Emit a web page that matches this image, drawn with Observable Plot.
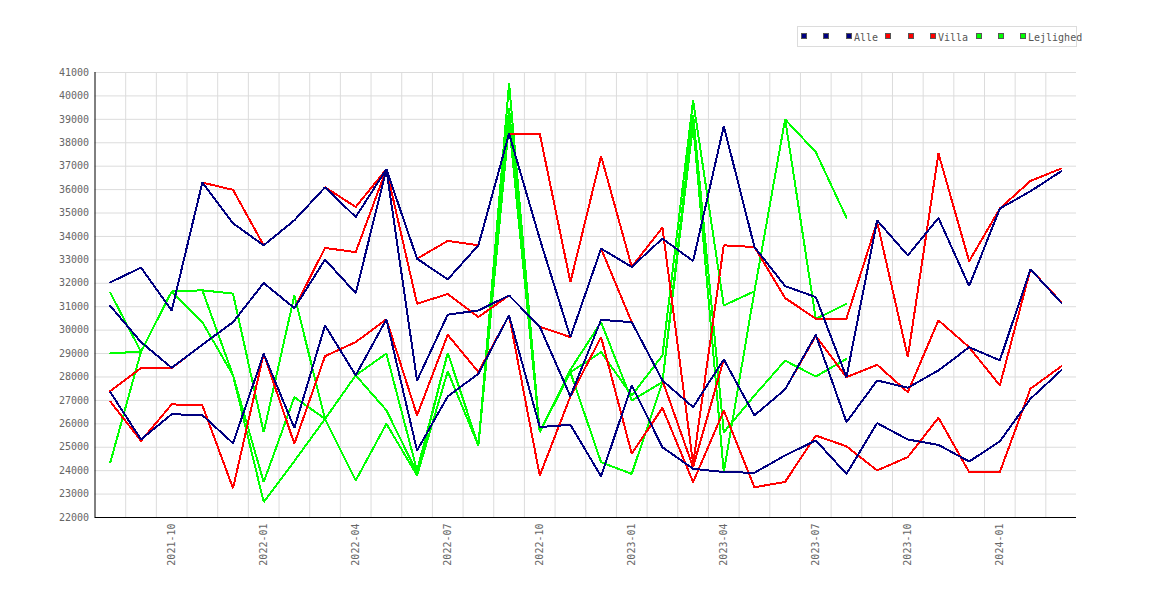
<!DOCTYPE html>
<html>
<head>
<meta charset="utf-8">
<script src="https://cdn.jsdelivr.net/npm/d3@7"></script>
<script src="https://cdn.jsdelivr.net/npm/@observablehq/plot@0.6"></script>
<style>
  html, body { margin: 0; padding: 0; background: #fff; }
  #wrap { position: relative; width: 1170px; height: 600px; }
  #legend { position: absolute; left: 0; top: 0; }
</style>
</head>
<body>
<div id="wrap"></div>
<script>
// Months (x categories)
const months = ["2021-08","2021-09","2021-10","2021-11","2021-12",
  "2022-01","2022-02","2022-03","2022-04","2022-05","2022-06","2022-07","2022-08","2022-09","2022-10","2022-11","2022-12",
  "2023-01","2023-02","2023-03","2023-04","2023-05","2023-06","2023-07","2023-08","2023-09","2023-10","2023-11","2023-12",
  "2024-01","2024-02","2024-03"];

// Tick labels shown on the x axis (every third month)
const xTickLabels = ["2021-10","2022-01","2022-04","2022-07","2022-10","2023-01","2023-04","2023-07","2023-10","2024-01"];
const yTicks = [22000,23000,24000,25000,26000,27000,28000,29000,30000,31000,32000,33000,34000,35000,36000,37000,38000,39000,40000,41000];

// Alle (navy)
const alle1 = [32040,32670,30840,36300,34560,33620,34690,36100,34830,36870,33050,32170,33620,38390,33900,29700,33480,32700,33910,32950,38710,33550,31880,31410,27990,34690,33190,34790,31880,35190,35930,36780];
const alle2 = [31030,29490,28390,29380,30340,32010,30940,33010,31580,36870,27850,30660,30840,31480,30150,27170,30440,30340,27850,26710,28750,26360,27470,29800,26070,27850,27540,28280,29270,28710,32600,31170];
const alle3 = [27350,25330,26410,26370,25170,28990,25820,30200,28070,30460,24860,27170,28140,30630,25860,25960,23760,27640,25000,24080,23940,23910,24650,25290,23860,26030,25330,25100,24390,25250,27070,28280];

// Villa (red)
const villa1 = [32040,32670,30840,36300,35990,33620,34690,36100,35260,36870,33050,33810,33620,38390,38390,32050,37430,32700,34380,24290,33620,33550,31370,30490,30490,34620,28850,37540,32940,35190,36370,36900];
const villa2 = [27400,28380,28380,29380,30340,32010,30940,33510,33330,36870,31130,31540,30560,31480,30150,29700,33480,30340,27850,24150,28750,26360,27470,29750,27990,28520,27350,30420,29270,27640,32600,31200];
const villa3 = [26950,25270,26830,26790,23250,28990,25150,28890,29490,30460,26360,29800,28210,30630,23790,27170,29700,24720,26680,23510,26570,23290,23520,25500,25040,24010,24580,26260,23940,23940,27500,28450];

// Lejlighed (green) – ends 2023-08
const lej1 = [31590,29080,31650,31700,31560,25640,31480,26200,28070,26580,23900,29030,25070,40530,25640,28310,30340,27000,27780,39200,25640,27210,28700,28020,28770];
const lej2 = [29010,29080,31650,30340,28070,23510,27140,26210,23580,26000,23800,28240,25070,39460,25640,28200,29060,27210,28920,39800,31050,31660,39000,37600,34800];
const lej3 = [24360,29080,31650,31700,28070,22660,24410,26210,28070,29000,24000,29030,25070,38820,25640,28200,24360,23860,27780,38800,23940,31660,39000,30480,31120];

const seriesNames = ["Alle","Villa","Lejlighed"];
const seriesColors = ["#000080","#ff0000","#00ff00"];

const series = [
  {key:"a1", group:0, values:alle1},
  {key:"a2", group:0, values:alle2},
  {key:"a3", group:0, values:alle3},
  {key:"v1", group:1, values:villa1},
  {key:"v2", group:1, values:villa2},
  {key:"v3", group:1, values:villa3},
  {key:"l1", group:2, values:lej1},
  {key:"l2", group:2, values:lej2},
  {key:"l3", group:2, values:lej3}
];

function rowsOf(s) {
  return s.values.map((v, i) => ({i, month: months[i], v}));
}

const tickIdx = xTickLabels.map(l => months.indexOf(l));
const gridX = months.slice(1).map((m, i) => i + 0.5);

// draw in reverse legend order: last entries first, so navy ends on top
const lineMarks = series.slice().reverse().map(s =>
  Plot.line(rowsOf(s), {x: "i", y: "v", stroke: seriesColors[s.group], strokeWidth: 2, strokeLinejoin: "miter", shapeRendering: "crispEdges"})
);

const chart = Plot.plot({
  width: 1170,
  height: 600,
  marginLeft: 94.5,
  marginRight: 94,
  marginTop: 72,
  marginBottom: 83,
  style: {fontFamily: "'DejaVu Sans Mono', monospace", fontSize: "10px", color: "#666", background: "#fff"},
  x: {type: "linear", domain: [-0.5, months.length - 0.5]},
  y: {domain: [22000, 41000]},
  marks: [
    Plot.ruleY(yTicks, {stroke: "#dcdcdc", strokeWidth: 1}),
    Plot.ruleX(gridX, {stroke: "#dcdcdc", strokeWidth: 1}),
    ...lineMarks,
    Plot.axisY({ticks: yTicks, tickFormat: d3.format("d"), tickSize: 0, tickPadding: 6, fill: "#666", label: null}),
    Plot.axisX({ticks: tickIdx, tickFormat: i => months[i], tickSize: 0, tickPadding: 6, tickRotate: -90, fill: "#666", label: null}),
    Plot.ruleX([-0.5], {stroke: "#000", strokeWidth: 1}),
    Plot.ruleY([22000], {stroke: "#000", strokeWidth: 1})
  ]
});

const wrap = document.getElementById("wrap");
wrap.appendChild(chart);

// Legend (overlay above the plot area)
const ns = "http://www.w3.org/2000/svg";
const leg = document.createElementNS(ns, "svg");
leg.setAttribute("id", "legend");
leg.setAttribute("width", 1170);
leg.setAttribute("height", 60);
const box = document.createElementNS(ns, "rect");
box.setAttribute("x", 797.5); box.setAttribute("y", 26.5);
box.setAttribute("width", 279); box.setAttribute("height", 20);
box.setAttribute("fill", "#fff"); box.setAttribute("stroke", "#dcdcdc");
leg.appendChild(box);
const sqX = [[801, 823, 846], [885, 908, 930], [976, 998, 1020]];
const txtX = [854, 938, 1028];
seriesNames.forEach((name, g) => {
  sqX[g].forEach(x => {
    const r = document.createElementNS(ns, "rect");
    r.setAttribute("x", x + 0.5); r.setAttribute("y", 33.5);
    r.setAttribute("width", 5); r.setAttribute("height", 5);
    r.setAttribute("fill", seriesColors[g]); r.setAttribute("stroke", "#555");
    r.setAttribute("shape-rendering", "crispEdges");
    leg.appendChild(r);
  });
  const t = document.createElementNS(ns, "text");
  t.setAttribute("x", txtX[g]); t.setAttribute("y", 40.5);
  t.setAttribute("font-family", "'DejaVu Sans Mono', monospace");
  t.setAttribute("font-size", "10px");
  t.setAttribute("fill", "#555");
  t.textContent = name;
  leg.appendChild(t);
});
wrap.appendChild(leg);
</script>
</body>
</html>
